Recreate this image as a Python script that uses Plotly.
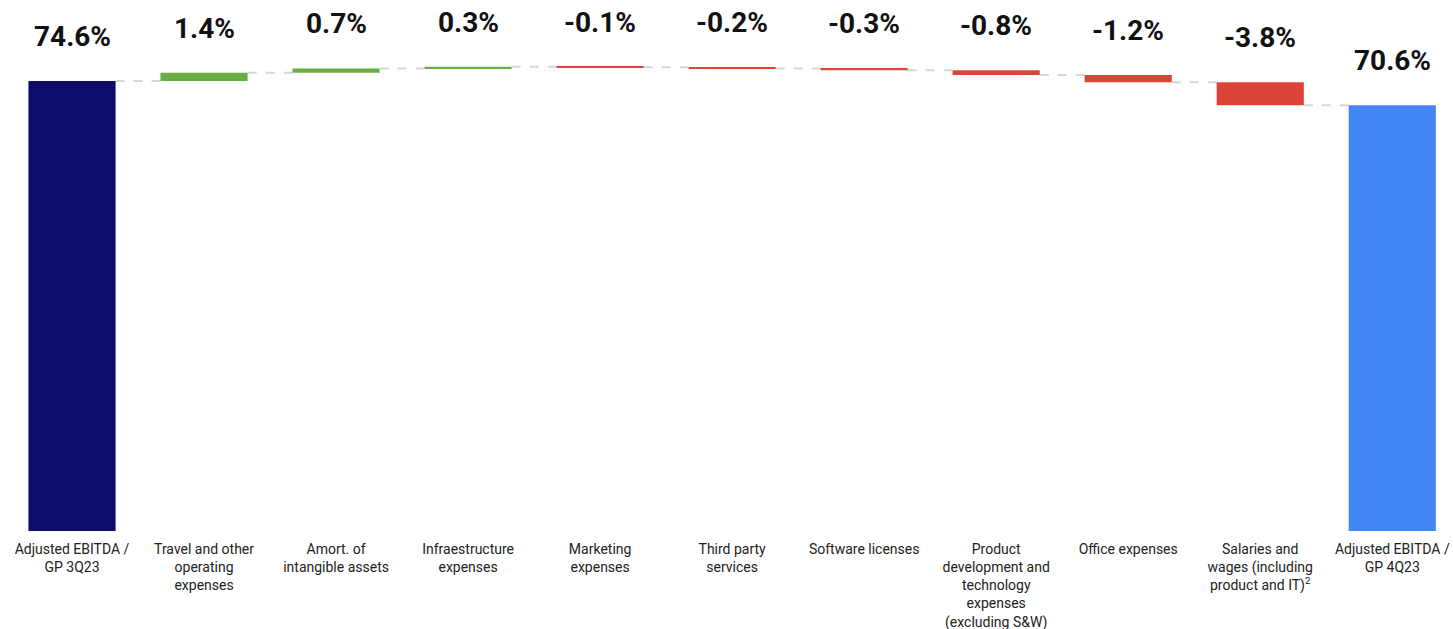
import plotly.graph_objects as go

# Adjusted EBITDA / GP bridge, 3Q23 -> 4Q23 (percentage points)
categories = [
    "Adjusted EBITDA /<br>GP 3Q23",
    "Travel and other<br>operating<br>expenses",
    "Amort. of<br>intangible assets",
    "Infraestructure<br>expenses",
    "Marketing<br>expenses",
    "Third party<br>services",
    "Software licenses",
    "Product<br>development and<br>technology<br>expenses<br>(excluding S&W)",
    "Office expenses",
    "Salaries and<br>wages (including<br>product and IT)<sup>2</sup>",
    "Adjusted EBITDA /<br>GP 4Q23",
]
values = [74.6, 1.4, 0.7, 0.3, -0.1, -0.2, -0.3, -0.8, -1.2, -3.8, 70.6]
value_labels = ["74.6%", "1.4%", "0.7%", "0.3%", "-0.1%", "-0.2%", "-0.3%",
                "-0.8%", "-1.2%", "-3.8%", "70.6%"]

NAVY = "#0E0B6B"
GREEN = "#6AAD45"
RED = "#DB4437"
BLUE = "#4285F4"
BAR_W = 0.66

n = len(values)
bases, heights, levels = [], [], []
level = 0.0
for i, v in enumerate(values):
    if i == 0 or i == n - 1:
        bases.append(0.0)
        heights.append(v)
        level = v
    else:
        bases.append(level)
        heights.append(v)
        level = level + v
    levels.append(level)


def group(idx, color):
    return go.Bar(
        x=[categories[i] for i in idx],
        y=[heights[i] for i in idx],
        base=[bases[i] for i in idx],
        width=BAR_W,
        marker=dict(color=color, line=dict(width=0)),
        hoverinfo="skip",
        showlegend=False,
    )


inc = [i for i in range(1, n - 1) if values[i] > 0]
dec = [i for i in range(1, n - 1) if values[i] < 0]

fig = go.Figure()
# connectors first so bars sit on top
for i in range(n - 1):
    fig.add_shape(
        type="line", xref="x", yref="y",
        x0=i + BAR_W / 2, x1=i + 1 - BAR_W / 2,
        y0=levels[i], y1=levels[i],
        line=dict(color="#D6D6D6", width=2, dash="dash"),
        layer="below",
    )

fig.add_trace(group([0], NAVY))
fig.add_trace(group(inc, GREEN))
fig.add_trace(group(dec, RED))
fig.add_trace(group([n - 1], BLUE))

for i in range(n):
    top = max(bases[i], bases[i] + heights[i])
    fig.add_annotation(
        x=i, y=top, xref="x", yref="y",
        text=f"<b>{value_labels[i]}</b>",
        showarrow=False, yanchor="bottom", yshift=26,
        font=dict(family="Roboto", size=28, color="#111111"),
    )

fig.update_layout(
    width=1453, height=629,
    margin=dict(l=6, r=0, t=0, b=98, autoexpand=False),
    paper_bgcolor="white", plot_bgcolor="white",
    barmode="overlay",
    font=dict(family="Roboto", size=14, color="#222222"),
    xaxis=dict(
        type="category", categoryorder="array", categoryarray=categories,
        range=[-0.5, 10.46], showgrid=False, zeroline=False, showline=False,
        automargin=False,
        ticks="outside", ticklen=5, tickcolor="rgba(0,0,0,0)",
        tickfont=dict(family="Roboto", size=14, color="#222222"),
    ),
    yaxis=dict(range=[0, 88.05], visible=False, showgrid=False, zeroline=False),
)

fig.write_html("out.html")
